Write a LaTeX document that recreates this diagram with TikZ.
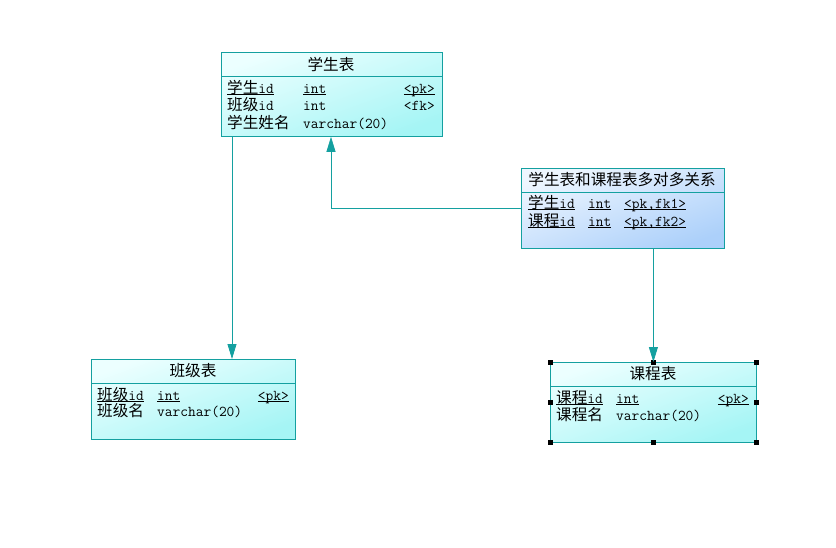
\documentclass[tikz,border=0pt]{standalone}
\usepackage{fontspec}
\newfontfamily\zh{Noto Sans CJK SC}[Scale=1.04]
\usetikzlibrary{arrows.meta}

\definecolor{edge}{RGB}{20,160,160}
\definecolor{cyanlo}{RGB}{236,255,255}
\definecolor{cyanhi}{RGB}{165,245,245}
\definecolor{bluelo}{RGB}{238,246,255}
\definecolor{bluehi}{RGB}{172,208,250}

% key columns are underlined just below the baseline
\newcommand{\ul}[1]{\underline{\smash{#1}}}

\tikzset{
    tbl/.style={draw=edge, line width=0.8pt, anchor=north west, inner sep=0pt,
        top color=cyanlo, bottom color=cyanhi, shading angle=20},
    rtbl/.style={tbl, top color=bluelo, bottom color=bluehi, shading angle=20},
    ln/.style={draw=edge, line width=0.8pt},
    rel/.style={draw=edge, line width=0.8pt, -{Triangle[width=9pt,length=15pt]}},
    cell/.style={inner sep=0pt, anchor=base west},
    rcell/.style={inner sep=0pt, anchor=base east}
}

\begin{document}
\begin{tikzpicture}[x=1pt, y=-1pt, font=\fontsize{15pt}{17pt}\ttfamily]
    \useasboundingbox (0,0) rectangle (836,547);

    % Table: students
    \node[tbl, minimum width=221pt, minimum height=84pt] (xs) at (221,52) {};
    \draw[ln] ([yshift=-24pt]xs.north west) -- ([yshift=-24pt]xs.north east);
    \node (xs-t) at (331,64) {\zh 学生表};
    \node[cell] (xs-1a) at (227,93) {\ul{{\zh 学生}id}};
    \node[cell] (xs-1b) at (303,93) {\ul{int}};
    \node[rcell] (xs-1c) at (435,93) {\ul{<pk>}};
    \node[cell] (xs-2a) at (227,110) {{\zh 班级}id};
    \node[cell] (xs-2b) at (303,110) {int};
    \node[rcell] (xs-2c) at (435,110) {<fk>};
    \node[cell] (xs-3a) at (227,128) {\zh 学生姓名};
    \node[cell] (xs-3b) at (303,128) {varchar(20)};

    % Link table: students and courses
    \node[rtbl, minimum width=203pt, minimum height=80pt] (gx) at (521,168) {};
    \draw[ln] ([yshift=-24pt]gx.north west) -- ([yshift=-24pt]gx.north east);
    \node (gx-t) at (622,180) {\zh 学生表和课程表多对多关系};
    \node[cell] (gx-1a) at (528,208) {\ul{{\zh 学生}id}};
    \node[cell] (gx-1b) at (588,208) {\ul{int}};
    \node[cell] (gx-1c) at (624,208) {\ul{<pk,fk1>}};
    \node[cell] (gx-2a) at (528,226) {\ul{{\zh 课程}id}};
    \node[cell] (gx-2b) at (588,226) {\ul{int}};
    \node[cell] (gx-2c) at (624,226) {\ul{<pk,fk2>}};

    % Table: classes
    \node[tbl, minimum width=204pt, minimum height=80pt] (bj) at (91,359) {};
    \draw[ln] ([yshift=-24pt]bj.north west) -- ([yshift=-24pt]bj.north east);
    \node (bj-t) at (193,371) {\zh 班级表};
    \node[cell] (bj-1a) at (97,400) {\ul{{\zh 班级}id}};
    \node[cell] (bj-1b) at (157,400) {\ul{int}};
    \node[rcell] (bj-1c) at (289,400) {\ul{<pk>}};
    \node[cell] (bj-2a) at (97,416) {\zh 班级名};
    \node[cell] (bj-2b) at (157,416) {varchar(20)};

    % Table: courses (selected)
    \node[tbl, minimum width=206pt, minimum height=80pt] (kc) at (550,362) {};
    \draw[ln] ([yshift=-24pt]kc.north west) -- ([yshift=-24pt]kc.north east);
    \node (kc-t) at (653,374) {\zh 课程表};
    \node[cell] (kc-1a) at (556,403) {\ul{{\zh 课程}id}};
    \node[cell] (kc-1b) at (616,403) {\ul{int}};
    \node[rcell] (kc-1c) at (749,403) {\ul{<pk>}};
    \node[cell] (kc-2a) at (556,420) {\zh 课程名};
    \node[cell] (kc-2b) at (616,420) {varchar(20)};

    % Selection handles
    \foreach \a in {north west, north, north east, east, south east, south, south west, west}
        \fill[black] (kc.\a) +(-2.5,-2.5) rectangle +(2.5,2.5);

    % References
    \draw[rel] ([xshift=11pt]xs.south west) -- ([xshift=11pt]xs.south west |- bj.north);
    \draw[rel] ([yshift=-40pt]gx.north west) -| ([xshift=110pt]xs.south west);
    \draw[rel] (kc.north |- gx.south) -- (kc.north);
\end{tikzpicture}
\end{document}
